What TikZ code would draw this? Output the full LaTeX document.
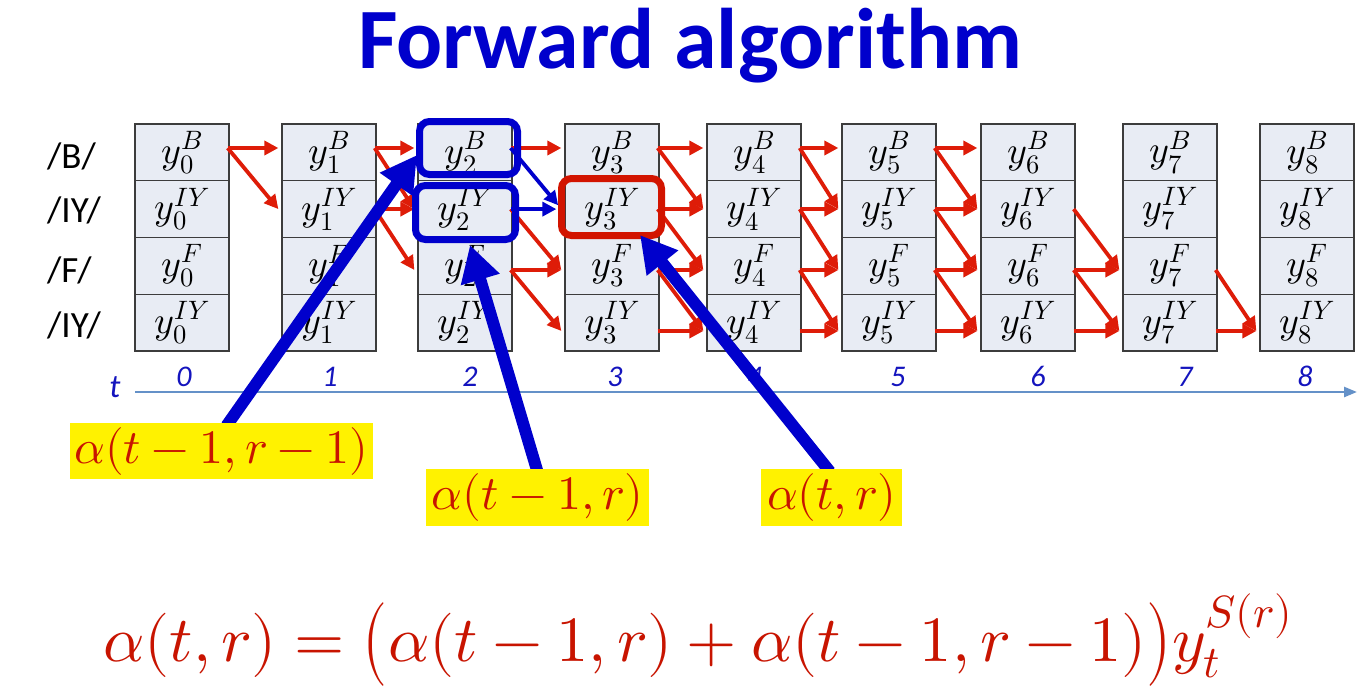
\documentclass[tikz,border=0pt]{standalone}
\usepackage{fontspec}
\usepackage{unicode-math}
\usepackage{graphicx}
\setmainfont{Carlito}
\usetikzlibrary{arrows.meta,calc}
\definecolor{titleblue}{RGB}{0,0,204}
\definecolor{ptblue}{RGB}{0,0,204}
\definecolor{numblue}{RGB}{20,20,190}
\definecolor{cellfill}{RGB}{232,236,244}
\definecolor{cellline}{RGB}{60,60,60}
\definecolor{arrred}{RGB}{222,28,8}
\definecolor{boxred}{RGB}{210,20,0}
\definecolor{txtred}{RGB}{200,20,0}
\definecolor{hlyellow}{RGB}{255,242,0}
\definecolor{axisblue}{RGB}{100,145,200}
\newcommand\bigparL{\mathopen{\raisebox{-0.075em}{\scalebox{1}[1.3]{$($}}}}
\newcommand\bigparR{\mathclose{\raisebox{-0.075em}{\scalebox{1}[1.3]{$)$}}}}
\pgfdeclarelayer{front}
\pgfsetlayers{main,front}
\tikzset{
  cell/.style={draw=cellline, line width=1.3pt, fill=cellfill, minimum width=94pt,
    minimum height=56.75pt, inner sep=0pt, font=\fontsize{38}{44}\selectfont},
  redarr/.style={draw=arrred, line width=3.8pt, -{Triangle[length=14pt,width=14pt]}},
  bluearr/.style={draw=ptblue, line width=3.8pt, -{Triangle[length=14pt,width=14pt]}},
  hlbox/.style={draw=#1, line width=7pt, rounded corners=10pt, inner sep=0pt},
  pointer/.style={draw=ptblue, line width=12pt, -{Triangle[length=36pt,width=38pt]}},
  ylabel/.style={fill=hlyellow, text=txtred, inner sep=0pt, font=\fontsize{48}{54}\selectfont},
  rowlab/.style={anchor=base west, font=\fontsize{37}{42}\selectfont, text=black, inner sep=0pt},
  tnum/.style={anchor=base, text=numblue, font=\fontsize{30}{34}\selectfont\itshape, inner sep=0pt},
  axisline/.style={draw=axisblue, line width=2.5pt, -{Triangle[length=13pt,width=10pt]}},
}
\begin{document}
\begin{tikzpicture}[x=1pt,y=-1pt]
\fill[white] (0,0) rectangle (1371,697);
\useasboundingbox (0,0) rectangle (1371,697);

% title
\node[anchor=base, text=titleblue, font=\fontsize{86}{96}\selectfont\bfseries, inner sep=0pt] (title) at (690,68) {Forward algorithm};

% row labels
\node[rowlab] (rB) at (47,168) {/B/};
\node[rowlab] (rI) at (47,222) {/IY/};
\node[rowlab] (rF) at (47,282) {/F/};
\node[rowlab] (rJ) at (47,337) {/IY/};

% cells
\foreach \i/\cx in {0/182,1/329,2/465,3/612,4/754,5/889,6/1028,7/1170,8/1307} {
  \foreach \r/\cy/\lab in {1/152.4/B,2/209.1/IY,3/265.9/F,4/322.6/IY} {
    \node[cell] (c\i\r) at (\cx,\cy) {$y_{\i}^{\lab}$};
  }
}
% connector end points
\foreach \i in {0,...,8} {
  \foreach \r/\o in {1/-4.4,2/0,3/4.1,4/8.4} {
    \coordinate (out\i\r) at ($(c\i\r.east)+(-2,\o)$);
    \coordinate (in\i\r) at ($(c\i\r.west)+(-3,\o)$);
  }
}
% red transitions
\foreach \i/\r/\d in {0/1/0,0/1/1,
  1/1/0,1/1/1,1/2/0,1/2/1,
  2/1/0,2/2/1,2/3/0,2/3/1,
  3/1/0,3/1/1,3/2/0,3/2/1,3/3/0,3/3/1,3/4/0,
  4/1/0,4/1/1,4/2/0,4/2/1,4/3/0,4/3/1,4/4/0,
  5/1/0,5/1/1,5/2/0,5/2/1,5/3/0,5/3/1,5/4/0,
  6/2/1,6/3/0,6/3/1,6/4/0,
  7/3/1,7/4/0} {
  \pgfmathtruncatemacro\j{\i+1}
  \pgfmathtruncatemacro\s{\r+\d}
  \draw[redarr] (out\i\r) -- (in\j\s);
}
% blue transitions
\draw[bluearr, shorten >=5pt] (out21) -- (in32);
\draw[bluearr, shorten >=5pt] (out22) -- (in32);

% highlight boxes
\node[hlbox=ptblue, minimum width=98pt, minimum height=53pt] (hbB) at (468.5,148) {};
\node[hlbox=ptblue, minimum width=100pt, minimum height=54pt] (hbI) at (465.5,212.5) {};
\node[hlbox=boxred, minimum width=100pt, minimum height=57pt] (hbR) at (611.5,207) {};

% time axis
\coordinate (ax0) at (135,392);
\coordinate (ax1) at (1357,392);
\draw[axisline] (ax0) -- (ax1);
\node[anchor=base, text=numblue, font=\fontsize{33}{38}\selectfont\itshape, inner sep=0pt] (tlab) at (115,397) {t};
\foreach \n/\x in {0/184,1/330,2/470,3/615,4/755,5/898,6/1038,7/1185,8/1305}
  \node[tnum] (n\n) at (\x,386) {\n};

% labels (front layer)
\begin{pgfonlayer}{front}
\node[ylabel, minimum width=303pt, minimum height=56pt] (L1) at (221.5,451) {$\alpha(t-1,r-1)$};
\node[ylabel, minimum width=223pt, minimum height=57pt] (L2) at (537.5,497.5) {$\alpha(t-1,r)$};
\node[ylabel, minimum width=141pt, minimum height=57pt] (L3) at (831.5,497.5) {$\alpha(t,r)$};
\end{pgfonlayer}

% pointers
\coordinate (tip1) at (417,155);
\coordinate (tip2) at (470,245);
\coordinate (tip3) at (640,235);
\draw[pointer] ($(L1.north)+(5,3)$) -- (tip1);
\draw[pointer] ($(L2.north)+(0,3)$) -- (tip2);
\draw[pointer] ($(L3.north)+(-1.5,3)$) -- (tip3);

% equation
\node[anchor=base, text=txtred, font=\fontsize{64.5}{72}\selectfont, inner sep=0pt] (eq) at (698,661)
  {$\alpha(t,r)=\bigparL\alpha(t-1,r)+\alpha(t-1,r-1)\bigparR y_t^{S(r)}$};
\end{tikzpicture}
\end{document}
